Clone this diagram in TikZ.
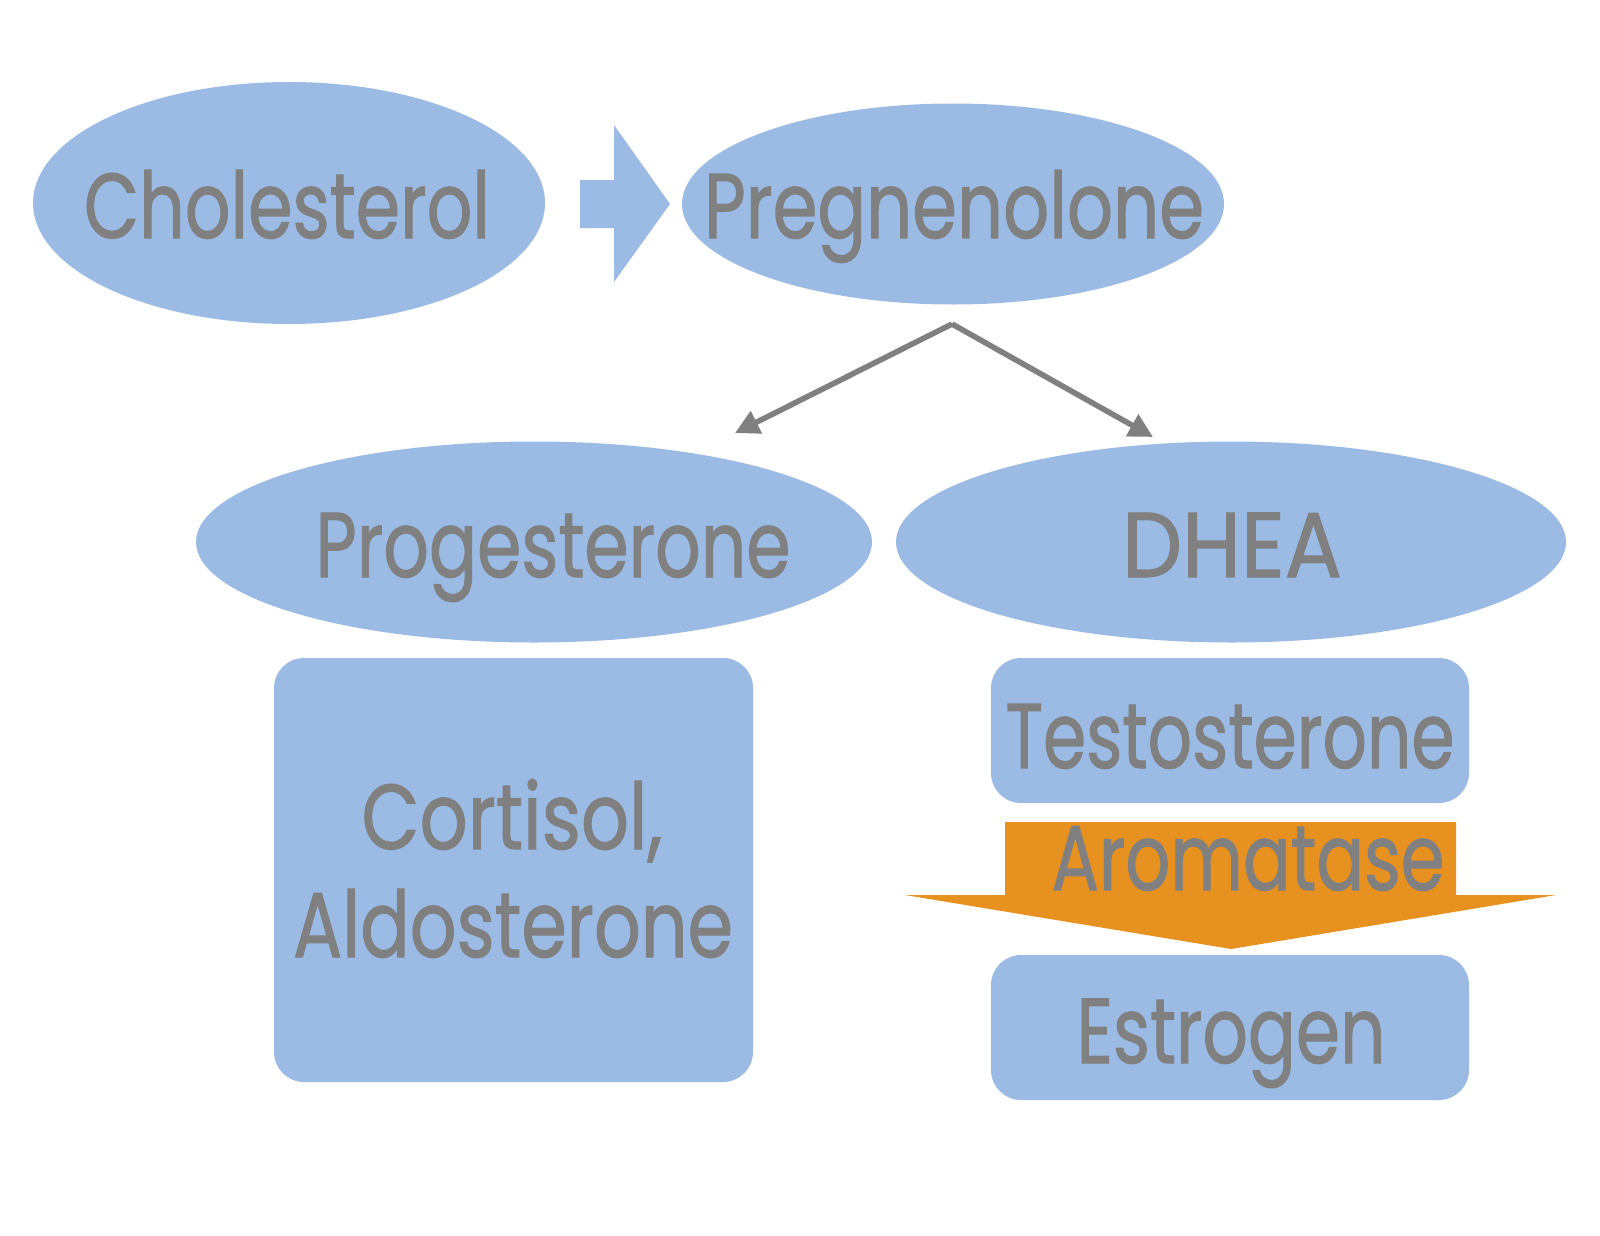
\documentclass[tikz,border=0pt]{standalone}
\usepackage{fontspec}
\usepackage{graphicx}
\setmainfont{Poppins}
\newfontfamily\lblfont{Poppins}[FakeBold=1.3]
\usetikzlibrary{shapes.geometric,arrows.meta}
\definecolor{blob}{RGB}{155,187,228}
\definecolor{txt}{RGB}{128,128,128}
\definecolor{orng}{RGB}{231,146,32}
\newcommand{\fitw}[2]{\resizebox{#1}{\height}{#2}}
\tikzset{
  blobell/.style={ellipse, fill=blob, draw=none, inner sep=0pt},
  blobbox/.style={rectangle, rounded corners=15pt, fill=blob, draw=none, inner sep=0pt},
  lbl/.style={anchor=base, inner sep=0pt, text=txt, font=\lblfont\fontsize{46}{50}\selectfont},
  conn/.style={draw=txt, line width=2.8pt, -{Triangle[length=12pt,width=12pt]}}
}
\begin{document}
\begin{tikzpicture}[x=0.5pt,y=-0.5pt]
\useasboundingbox (0,0) rectangle (1600,1236);
% shapes
\node[blobell, minimum width=256pt, minimum height=121pt] (chol) at (289,203) {};
\node[blobell, minimum width=271pt, minimum height=100.5pt] (preg) at (953,204) {};
\node[blobell, minimum width=338pt, minimum height=100.5pt] (prog) at (534,542) {};
\node[blobell, minimum width=335pt, minimum height=100.5pt] (dhea) at (1231,542) {};
\node[blobbox, minimum width=239.5pt, minimum height=212pt] (cort) at (513.5,870) {};
\node[blobbox, minimum width=239pt, minimum height=72.5pt] (test) at (1230,730.5) {};
\node[blobbox, minimum width=239pt, minimum height=72.5pt] (estr) at (1230,1027.5) {};
% big blue arrow
\fill[blob] (580,180) -- (614,180) -- (614,125) -- (670,204) -- (614,282) -- (614,228) -- (580,228) -- cycle;
% orange arrow
\fill[orng] (1005,822) -- (1456,822) -- (1456,895) -- (1556,895) -- (1231,949) -- (905,895) -- (1005,895) -- cycle;
% labels
\node[lbl] (tchol) at (287,238) {\fitw{203pt}{Cholesterol}};
\node[lbl] (tpreg) at (954,238) {\fitw{250pt}{Pregnenolone}};
\node[lbl] (tprog) at (553,577) {\fitw{237.5pt}{Progesterone}};
\node[lbl] (tdhea) at (1232,577) {\fitw{110pt}{DHEA}};
\node[lbl] (tcort) at (512,849) {\fitw{150.5pt}{Cortisol,}};
\node[lbl] (tald) at (513,957) {\fitw{220pt}{Aldosterone}};
\node[lbl] (ttest) at (1230,768) {\fitw{224.5pt}{Testosterone}};
\node[lbl] (tarom) at (1248,890) {\fitw{196.5pt}{Aromatase}};
\node[lbl] (testr) at (1231,1063) {\fitw{154.5pt}{Estrogen}};
% connectors
\coordinate (split) at (952,324);
\coordinate (tipL) at (735,433);
\coordinate (tipR) at (1153,437);
\draw[conn] (split) -- (tipL);
\draw[conn] (split) -- (tipR);
\end{tikzpicture}
\end{document}
